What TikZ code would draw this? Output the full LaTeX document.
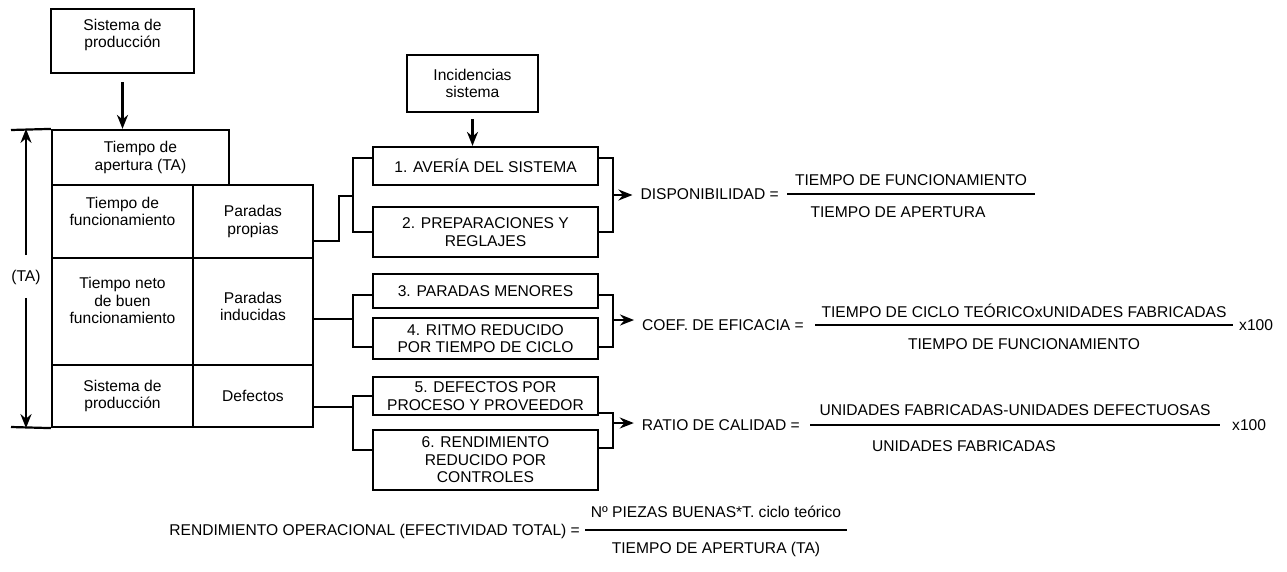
\documentclass[tikz,border=0pt]{standalone}
\usepackage{fontspec}
\setmainfont{Liberation Sans}
\usepackage{tikz}
\usetikzlibrary{positioning,arrows.meta}
\tikzset{every node/.append style={font=\fontsize{15.6}{17.5}\selectfont}}
\tikzset{
  caja/.style={draw, line width=2.2pt, align=center, inner sep=2pt},
  barra/.style={fill=black, inner sep=0pt, minimum height=2.6pt},
  formula/.style={inner sep=0pt, text height=11.5pt, text depth=0pt},
}

\begin{document}
\begin{tikzpicture}[x=1pt, y=-1pt, line width=2.2pt, >={Stealth[length=14pt,width=11pt]}]
    \useasboundingbox (0,0) rectangle (1287,571);
    \node[caja, minimum width=143pt, minimum height=64pt, label={[align=center, yshift=6pt]center:Sistema de\\producción}] (sisprod) at (122.5,41) {};
    \node[caja, minimum width=177pt, minimum height=55pt] (apertura) at (140.5,157.5) {Tiempo de\\apertura (TA)};
    \node[caja, minimum width=141pt, minimum height=73pt, label={[align=center, yshift=10pt]center:Tiempo de\\funcionamiento}] (funcion) at (122.5,221.5) {};
    \node[caja, minimum width=120pt, minimum height=73pt] (propias) at (253,221.5) {Paradas\\propias};
    \node[caja, minimum width=141pt, minimum height=107pt, label={[align=center, yshift=11pt]center:Tiempo neto\\de buen\\funcionamiento}] (neto) at (122.5,311.5) {};
    \node[caja, minimum width=120pt, minimum height=107pt, label={[align=center, yshift=5pt]center:Paradas\\inducidas}] (inducidas) at (253,311.5) {};
    \node[caja, minimum width=141pt, minimum height=62pt] (sisprod2) at (122.5,396) {Sistema de\\producción};
    \node[caja, minimum width=120pt, minimum height=62pt] (defectos) at (253,396) {Defectos};
    \draw[->, shorten <=8pt] (sisprod.south) -- (sisprod.south |- apertura.north);

    \coordinate (tatop) at (11,130);
    \coordinate (tabot) at (11,427);
    \node[inner sep=0pt, text height=11.5pt, text depth=0pt] (ta) at (26,276) {(TA)};
    \draw (tatop) -- (apertura.north west);
    \draw (tabot) -- (sisprod2.south west);
    \draw[->, shorten <=14pt] (ta.north) -- (ta.north |- apertura.north);
    \draw[->, shorten <=15pt] (ta.south) -- (ta.south |- sisprod2.south);

    \node[caja, minimum width=131pt, minimum height=57pt] (incid) at (472.5,83.5) {Incidencias\\sistema};
    \node[caja, minimum width=225pt, minimum height=38pt] (b1) at (485.5,166) {1. AVERÍA DEL SISTEMA};
    \node[caja, minimum width=225pt, minimum height=50pt] (b2) at (485.5,232) {2. PREPARACIONES Y\\REGLAJES};
    \node[caja, minimum width=225pt, minimum height=34pt] (b3) at (485.5,291) {3. PARADAS MENORES};
    \node[caja, minimum width=225pt, minimum height=41pt] (b4) at (485.5,338.5) {4. RITMO REDUCIDO\\POR TIEMPO DE CICLO};
    \node[caja, minimum width=225pt, minimum height=38pt] (b5) at (485.5,396) {5. DEFECTOS POR\\PROCESO Y PROVEEDOR};
    \node[caja, minimum width=225pt, minimum height=60pt] (b6) at (485.5,460) {6. RENDIMIENTO\\REDUCIDO POR\\CONTROLES};
    \draw[->, shorten <=6pt] (incid.south) -- (incid.south |- b1.north);

    \coordinate (j1) at (353,196);
    \coordinate (k1) at (613,195);
    \coordinate (j2) at (353,319);
    \coordinate (k2) at (613,320);
    \coordinate (j3) at (353,407);
    \coordinate (k3) at (613,423);
    \draw ([yshift=-19.5pt]propias.east) -- ++(25,0) |- (j1);
    \draw ([yshift=8pt]b1.west) -| (j1) |- (b2.west);
    \draw ([yshift=8pt]b1.east) -| (k1) |- (b2.east);
    \draw (inducidas.east |- j2) -- (j2);
    \draw ([yshift=-4pt]b3.west) -| (j2) |- ([yshift=-8.5pt]b4.west);
    \draw ([yshift=-4pt]b3.east) -| (k2) |- ([yshift=-8.5pt]b4.east);
    \draw (defectos.east |- j3) -- (j3);
    \draw (b5.west) -| (j3) |- ([yshift=10pt]b6.west);
    \draw ([yshift=-17pt]b5.east) -| (k3) |- ([yshift=12pt]b6.east);

    \node[barra, minimum width=248pt] (dispbar) at (911,194) {};
    \node[formula, left=6pt of dispbar] (disp) {DISPONIBILIDAD =};
    \node[formula, above=5pt of dispbar] (dispnum) {TIEMPO DE FUNCIONAMIENTO};
    \node[formula, below=8pt of dispbar, xshift=-13pt] (dispden) {TIEMPO DE APERTURA};
    \draw[->, shorten >=7pt] (k1) -- (k1 -| disp.west);

    \node[barra, minimum width=418pt] (coefbar) at (1024,325) {};
    \node[formula, left=9pt of coefbar] (coef) {COEF. DE EFICACIA =};
    \node[formula, above=4pt of coefbar] (coefnum) {TIEMPO DE CICLO TEÓRICOxUNIDADES FABRICADAS};
    \node[formula, below=9pt of coefbar] (coefden) {TIEMPO DE FUNCIONAMIENTO};
    \node[formula, right=4pt of coefbar] (coefx) {x100};
    \draw[->, shorten >=7pt] (k2) -- (k2 -| coef.west);

    \node[barra, minimum width=410pt] (ratiobar) at (1015,425) {};
    \node[formula, left=8pt of ratiobar] (ratio) {RATIO DE CALIDAD =};
    \node[formula, above=6pt of ratiobar] (rationum) {UNIDADES FABRICADAS-UNIDADES DEFECTUOSAS};
    \node[formula, below=11pt of ratiobar, xshift=-51pt] (ratioden) {UNIDADES FABRICADAS};
    \node[formula, right=10pt of ratiobar] (ratiox) {x100};
    \draw[->, shorten >=7pt] (k3) -- (k3 -| ratio.west);

    \node[barra, minimum width=262pt] (rendbar) at (716,530) {};
    \node[formula, left=3pt of rendbar] (rend) {RENDIMIENTO OPERACIONAL (EFECTIVIDAD TOTAL) =};
    \node[formula, above=9pt of rendbar] (rendnum) {Nº PIEZAS BUENAS*T. ciclo teórico};
    \node[formula, below=8pt of rendbar] (rendden) {TIEMPO DE APERTURA (TA)};
\end{tikzpicture}
\end{document}
